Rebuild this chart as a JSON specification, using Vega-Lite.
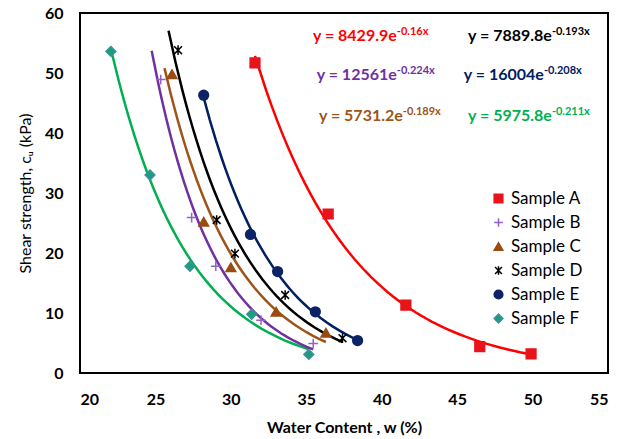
{
  "$schema": "https://vega.github.io/schema/vega-lite/v6.json",
  "width": 528,
  "height": 360,
  "autosize": {"type": "none"},
  "padding": {"left": 80, "top": 13, "right": 20, "bottom": 66},
  "background": "white",
  "config": {
    "font": "Lato",
    "view": {"stroke": "black", "strokeWidth": 2},
    "axis": {"grid": false, "ticks": false, "domain": false, "labelFont": "Lato", "labelFontWeight": "bold", "labelFontSize": 16, "labelColor": "#000000", "titleFont": "Lato", "titleFontSize": 16, "titleColor": "#000000"},
    "legend": {"labelFont": "Lato", "labelFontSize": 17, "labelColor": "#000000"}
  },
  "datasets": {
    "pts": [
      {"series": "Sample A", "w": 31.6, "cu": 51.7},
      {"series": "Sample A", "w": 36.45, "cu": 26.5},
      {"series": "Sample A", "w": 41.6, "cu": 11.3},
      {"series": "Sample A", "w": 46.5, "cu": 4.4},
      {"series": "Sample A", "w": 49.9, "cu": 3.2},
      {"series": "Sample B", "w": 25.35, "cu": 48.9},
      {"series": "Sample B", "w": 27.4, "cu": 25.9},
      {"series": "Sample B", "w": 29.0, "cu": 17.8},
      {"series": "Sample B", "w": 32.0, "cu": 8.8},
      {"series": "Sample B", "w": 35.46, "cu": 4.9},
      {"series": "Sample C", "w": 26.1, "cu": 49.8},
      {"series": "Sample C", "w": 28.2, "cu": 25.2},
      {"series": "Sample C", "w": 30.0, "cu": 17.6},
      {"series": "Sample C", "w": 33.0, "cu": 10.2},
      {"series": "Sample C", "w": 36.3, "cu": 6.7},
      {"series": "Sample D", "w": 26.5, "cu": 53.8},
      {"series": "Sample D", "w": 29.06, "cu": 25.5},
      {"series": "Sample D", "w": 30.27, "cu": 19.9},
      {"series": "Sample D", "w": 33.6, "cu": 13.0},
      {"series": "Sample D", "w": 37.4, "cu": 5.8},
      {"series": "Sample E", "w": 28.2, "cu": 46.3},
      {"series": "Sample E", "w": 31.3, "cu": 23.1},
      {"series": "Sample E", "w": 33.1, "cu": 16.9},
      {"series": "Sample E", "w": 35.6, "cu": 10.2},
      {"series": "Sample E", "w": 38.4, "cu": 5.4},
      {"series": "Sample F", "w": 22.05, "cu": 53.6},
      {"series": "Sample F", "w": 24.64, "cu": 33.0},
      {"series": "Sample F", "w": 27.29, "cu": 17.8},
      {"series": "Sample F", "w": 31.38, "cu": 9.8},
      {"series": "Sample F", "w": 35.17, "cu": 3.1}
    ],
    "eq": [
      {"series": "Sample A", "base": "y = 8429.9e", "sup": "-0.16x", "tx": 41.0, "ty": 55.33},
      {"series": "Sample D", "base": "y = 7889.8e", "sup": "-0.193x", "tx": 51.28, "ty": 55.33},
      {"series": "Sample B", "base": "y = 12561e", "sup": "-0.224x", "tx": 41.0, "ty": 48.83},
      {"series": "Sample E", "base": "y = 16004e", "sup": "-0.208x", "tx": 50.75, "ty": 48.83},
      {"series": "Sample C", "base": "y = 5731.2e", "sup": "-0.189x", "tx": 41.4, "ty": 42.0},
      {"series": "Sample F", "base": "y = 5975.8e", "sup": "-0.211x", "tx": 51.28, "ty": 42.0}
    ]
  },
  "layer": [
    {
      "data": {"name": "pts"},
      "transform": [
        {"filter": {"field": "series", "oneOf": ["Sample A", "Sample E", "Sample F"]}},
        {"regression": "cu", "on": "w", "groupby": ["series"], "method": "exp"}
      ],
      "mark": {"type": "line", "strokeWidth": 2.5},
      "encoding": {
        "x": {"field": "w", "type": "quantitative", "scale": {"domain": [20, 55], "nice": false}, "axis": {"values": [20, 25, 30, 35, 40, 45, 50, 55], "title": "Water Content , w (%)", "titleFontWeight": "bold", "labelPadding": 18, "titlePadding": 12}},
        "y": {"field": "cu", "type": "quantitative", "scale": {"domain": [0, 60], "nice": false}, "axis": {"values": [0, 10, 20, 30, 40, 50, 60], "title": "Shear strength, cᵤ (kPa)", "titleFontWeight": "normal", "labelPadding": 17, "titlePadding": 11}},
        "color": {"field": "series", "type": "nominal", "legend": null, "scale": {"range": ["#FF0000", "#7030A0", "#9E5418", "#000000", "#002060", "#00B050"]}},
        "detail": {"field": "series"}
      }
    },
    {
      "data": {"name": "pts"},
      "transform": [
        {"filter": {"field": "series", "equal": "Sample B"}},
        {"regression": "cu", "on": "w", "groupby": ["series"], "method": "exp", "extent": [24.75, 35.46]}
      ],
      "mark": {"type": "line", "strokeWidth": 2.5},
      "encoding": {
        "x": {"field": "w", "type": "quantitative"},
        "y": {"field": "cu", "type": "quantitative"},
        "color": {"field": "series", "type": "nominal", "legend": null}
      }
    },
    {
      "data": {"name": "pts"},
      "transform": [
        {"filter": {"field": "series", "equal": "Sample C"}},
        {"regression": "cu", "on": "w", "groupby": ["series"], "method": "exp", "extent": [25.6, 36.3]}
      ],
      "mark": {"type": "line", "strokeWidth": 2.5},
      "encoding": {
        "x": {"field": "w", "type": "quantitative"},
        "y": {"field": "cu", "type": "quantitative"},
        "color": {"field": "series", "type": "nominal", "legend": null}
      }
    },
    {
      "data": {"name": "pts"},
      "transform": [
        {"filter": {"field": "series", "equal": "Sample D"}},
        {"regression": "cu", "on": "w", "groupby": ["series"], "method": "exp", "extent": [25.87, 37.4]}
      ],
      "mark": {"type": "line", "strokeWidth": 2.5},
      "encoding": {
        "x": {"field": "w", "type": "quantitative"},
        "y": {"field": "cu", "type": "quantitative"},
        "color": {"field": "series", "type": "nominal", "legend": null}
      }
    },
    {
      "data": {"name": "pts"},
      "mark": {"type": "point", "filled": true, "strokeWidth": 1.5, "opacity": 1},
      "encoding": {
        "x": {"field": "w", "type": "quantitative"},
        "y": {"field": "cu", "type": "quantitative"},
        "shape": {"field": "series", "type": "nominal", "scale": {"domain": ["Sample A", "Sample B", "Sample C", "Sample D", "Sample E", "Sample F"], "range": ["square", "M-1,0L1,0M0,-1L0,1", "triangle-up", "M-0.8,-0.8L0.8,0.8M-0.8,0.8L0.8,-0.8M0,-1L0,1", "circle", "diamond"]}, "legend": {"title": null, "orient": "none", "legendX": 410, "legendY": 177, "rowPadding": 6, "symbolSize": 75, "symbolStrokeWidth": 1.5}},
        "fill": {"field": "series", "type": "nominal", "scale": {"domain": ["Sample A", "Sample B", "Sample C", "Sample D", "Sample E", "Sample F"], "range": ["#E8141C", "transparent", "#9B4B0F", "transparent", "#0D2366", "#1E9E74"]}, "legend": {"title": null, "orient": "none", "legendX": 410, "legendY": 177, "rowPadding": 6, "symbolSize": 75, "symbolStrokeWidth": 1.5}},
        "stroke": {"field": "series", "type": "nominal", "scale": {"domain": ["Sample A", "Sample B", "Sample C", "Sample D", "Sample E", "Sample F"], "range": ["#E8141C", "#9461CC", "#9B4B0F", "#000000", "#0D2366", "#3A8FA0"]}, "legend": {"title": null, "orient": "none", "legendX": 410, "legendY": 177, "rowPadding": 6, "symbolSize": 75, "symbolStrokeWidth": 1.5}},
        "size": {"value": 95}
      }
    },
    {
      "data": {"name": "eq"},
      "mark": {"type": "text", "align": "right", "baseline": "alphabetic", "fontSize": 16, "fontWeight": "bold"},
      "encoding": {
        "x": {"field": "tx", "type": "quantitative"},
        "y": {"field": "ty", "type": "quantitative"},
        "text": {"field": "base"},
        "color": {"field": "series", "type": "nominal", "legend": null}
      }
    },
    {
      "data": {"name": "eq"},
      "mark": {"type": "text", "align": "left", "baseline": "alphabetic", "fontSize": 11, "fontWeight": "bold", "dy": -6},
      "encoding": {
        "x": {"field": "tx", "type": "quantitative"},
        "y": {"field": "ty", "type": "quantitative"},
        "text": {"field": "sup"},
        "color": {"field": "series", "type": "nominal", "legend": null}
      }
    }
  ]
}
